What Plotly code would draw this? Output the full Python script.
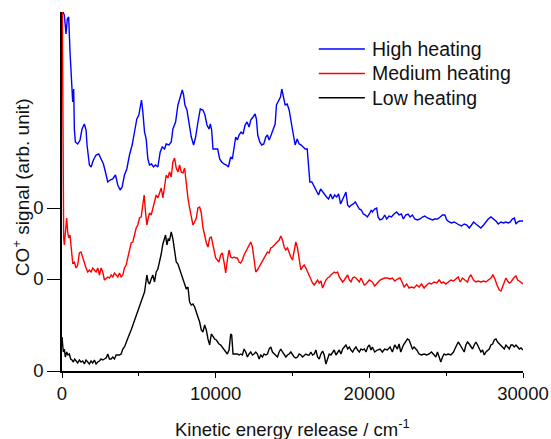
import plotly.graph_objects as go

# Kinetic energy release (cm^-1) and CO+ signal (arb. unit).
# Each series is stored relative to its own zero; offsets are applied when plotting.

blue_energy = [
    0, 87, 152, 261, 348, 435, 522, 630, 696, 761,
    804, 870, 1022, 1174, 1304, 1457, 1565, 1630, 1783, 1891,
    2044, 2217, 2391, 2544, 2696, 2826, 2978, 3131, 3304, 3478,
    3631, 3783, 3913, 4065, 4218, 4391, 4565, 4718, 4870, 5000,
    5087, 5174, 5261, 5370, 5478, 5587, 5696, 5826, 5957, 6087,
    6239, 6391, 6522, 6674, 6783, 6957, 7109, 7217, 7391, 7544,
    7696, 7826, 7913, 8000, 8131, 8261, 8413, 8565, 8696, 8848,
    9000, 9174, 9304, 9435, 9565, 9652, 9739, 9826, 10000, 10130,
    10261, 10391, 10543, 10696, 10826, 10978, 11087, 11196, 11304, 11413,
    11522, 11652, 11783, 11913, 12044, 12174, 12283, 12435, 12565, 12652,
    12739, 12870, 13000, 13130, 13261, 13370, 13478, 13609, 13739, 13870,
    13957, 14087, 14217, 14304, 14391, 14522, 14652, 14783, 14913, 15044,
    15174, 15304, 15435, 15565, 15696, 15826, 15957, 16043, 16130, 16261,
    16413, 16565, 16696, 16826, 16957, 17087, 17217, 17348, 17478, 17609,
    17739, 17870, 18000, 18130, 18261, 18391, 18478, 18587, 18696, 18826,
    18957, 19087, 19217, 19348, 19478, 19609, 19739, 19870, 20000, 20130,
    20196, 20348, 20478, 20565, 20696, 20848, 21000, 21130, 21283, 21435,
    21609, 21783, 21935, 22087, 22217, 22370, 22522, 22652, 22804, 22957,
    23130, 23304, 23457, 23609, 23783, 23957, 24109, 24261, 24435, 24609,
    24761, 24913, 25043, 25196, 25348, 25522, 25696, 25848, 26000, 26174,
    26348, 26500, 26652, 26783, 26935, 27087, 27261, 27435, 27587, 27739,
    27913, 28087, 28239, 28391, 28565, 28739, 28891, 29043, 29174, 29304,
    29435, 29543, 29652, 29783, 30000,
]
blue_signal = [
    240, 195, 193, 174, 189, 191, 156, 126, 106, 119,
    79, 66, 64, 68, 79, 84, 78, 63, 43, 41,
    48, 53, 54, 49, 44, 36, 26, 28, 29, 33,
    23, 18, 21, 33, 39, 53, 63, 76, 89, 93,
    99, 108, 96, 76, 69, 49, 43, 44, 41, 43,
    41, 56, 61, 59, 64, 63, 66, 79, 86, 103,
    111, 118, 113, 103, 98, 86, 71, 63, 71, 86,
    99, 98, 93, 83, 79, 84, 78, 59, 59, 59,
    49, 46, 44, 43, 41, 51, 49, 59, 71, 68,
    73, 76, 74, 83, 86, 81, 88, 91, 94, 89,
    73, 66, 63, 64, 71, 73, 68, 73, 79, 84,
    103, 108, 111, 119, 113, 103, 104, 98, 86, 76,
    63, 69, 64, 63, 61, 59, 59, 46, 26, 26,
    21, 16, 13, 19, 16, 14, 11, 9, 14, 9,
    13, 11, 14, 4, 8, 13, 16, 3, 1, 3,
    4, 6, 3, -1, -2, -6, -7, -9, -6, -2,
    -4, -1, 0, -9, -12, -11, -7, -11, -8, -9,
    -6, -4, -7, -6, -11, -7, -6, -9, -7, -11,
    -12, -11, -9, -8, -10, -11, -12, -11, -11, -9,
    -7, -7, -12, -14, -15, -14, -16, -17, -18, -16,
    -17, -20, -17, -14, -16, -18, -20, -17, -14, -11,
    -9, -11, -13, -16, -14, -15, -14, -15, -14, -11,
    -10, -16, -14, -13, -13,
]

red_energy = [
    0, 65, 109, 152, 217, 304, 370, 435, 522, 609,
    696, 804, 913, 1022, 1130, 1239, 1348, 1457, 1565, 1674,
    1783, 1891, 2000, 2109, 2217, 2326, 2435, 2544, 2652, 2761,
    2870, 2978, 3087, 3196, 3304, 3413, 3522, 3631, 3739, 3848,
    3957, 4065, 4174, 4283, 4391, 4500, 4609, 4718, 4826, 4935,
    5043, 5152, 5261, 5348, 5435, 5522, 5609, 5696, 5804, 5913,
    6022, 6130, 6239, 6348, 6457, 6565, 6674, 6783, 6891, 7000,
    7109, 7217, 7326, 7435, 7544, 7652, 7761, 7870, 7978, 8087,
    8196, 8304, 8413, 8522, 8630, 8739, 8848, 8957, 9065, 9174,
    9283, 9391, 9500, 9609, 9717, 9826, 9935, 10000, 10109, 10217,
    10326, 10435, 10543, 10652, 10761, 10870, 10978, 11087, 11196, 11304,
    11413, 11522, 11630, 11739, 11848, 11957, 12065, 12174, 12283, 12391,
    12500, 12609, 12717, 12826, 12935, 13043, 13152, 13261, 13370, 13478,
    13587, 13696, 13804, 13913, 14022, 14130, 14239, 14348, 14457, 14565,
    14674, 14783, 14891, 15000, 15109, 15217, 15326, 15435, 15543, 15652,
    15761, 15870, 15978, 16087, 16196, 16304, 16413, 16522, 16630, 16739,
    16848, 16957, 17065, 17174, 17283, 17391, 17500, 17609, 17717, 17826,
    17935, 18043, 18152, 18261, 18370, 18478, 18587, 18696, 18804, 18913,
    19022, 19130, 19239, 19348, 19457, 19565, 19674, 19783, 19891, 20000,
    20196, 20348, 20522, 20696, 20848, 21000, 21174, 21348, 21500, 21652,
    21826, 22000, 22130, 22261, 22435, 22587, 22739, 22913, 23087, 23239,
    23391, 23565, 23739, 23891, 24043, 24217, 24391, 24543, 24696, 24826,
    24978, 25130, 25304, 25478, 25630, 25783, 25913, 26065, 26217, 26391,
    26500, 26609, 26783, 26935, 27087, 27261, 27435, 27587, 27739, 27913,
    28043, 28174, 28304, 28457, 28565, 28674, 28783, 28891, 29000, 29109,
    29217, 29391, 29543, 29652, 29761, 29870, 30000,
]
red_signal = [
    320, 104, 41, 34, 44, 61, 47, 41, 44, 27,
    16, 17, 11, 14, 26, 27, 21, 17, 11, 7,
    9, 7, 11, 9, 7, 11, 4, 11, 7, -1,
    1, 2, 1, 4, 2, 6, 4, 2, 6, 2,
    4, 11, 14, 21, 26, 36, 37, 44, 51, 54,
    61, 62, 74, 84, 67, 54, 61, 66, 64, 71,
    77, 84, 81, 87, 91, 81, 94, 104, 101, 107,
    102, 117, 121, 111, 107, 114, 107, 106, 111, 94,
    81, 71, 61, 54, 57, 61, 71, 72, 66, 51,
    44, 36, 32, 41, 42, 34, 27, 21, 19, 17,
    24, 26, 17, 6, 19, 29, 22, 21, 22, 21,
    21, 17, 16, 19, 24, 27, 31, 34, 37, 32,
    21, 7, 9, 12, 14, 17, 21, 24, 27, 26,
    31, 32, 34, 36, 37, 39, 43, 39, 32, 29,
    31, 26, 22, 19, 27, 37, 31, 17, 9, 12,
    14, 11, 7, 4, -1, -4, -6, -3, -1, -4,
    -2, -9, -4, -1, 1, 2, 4, 6, 7, 6,
    7, 2, 0, -3, -1, 2, 4, -1, -3, 1,
    2, 1, -1, -3, 1, -2, -6, -5, -3, -1,
    -3, -7, -4, -1, 0, 1, 1, 0, 1, -2,
    0, 1, -3, -8, -5, -9, -8, -9, -6, -8,
    -5, -9, -6, -4, -5, -3, -4, -1, -4, -3,
    -5, -3, -1, -2, 0, 2, -3, 1, -1, -3,
    2, 4, -1, -3, -2, -3, -2, -3, -1, 1,
    4, 0, -6, -11, -12, -8, -3, 1, -2, -4,
    -3, 1, 3, -1, -2, -3, -5,
]

black_energy = [
    0, 87, 152, 217, 304, 391, 478, 565, 652, 739,
    826, 913, 1022, 1130, 1239, 1348, 1457, 1565, 1674, 1783,
    1891, 2000, 2109, 2217, 2326, 2435, 2544, 2652, 2761, 2870,
    2978, 3087, 3196, 3304, 3413, 3522, 3631, 3739, 3848, 3957,
    4065, 4174, 4283, 4391, 4500, 4609, 4718, 4826, 4935, 5043,
    5152, 5261, 5370, 5435, 5522, 5609, 5696, 5804, 5913, 6022,
    6130, 6239, 6348, 6457, 6565, 6674, 6739, 6826, 6913, 7000,
    7109, 7217, 7326, 7435, 7544, 7652, 7761, 7870, 7978, 8087,
    8196, 8304, 8413, 8522, 8630, 8739, 8848, 8957, 9065, 9174,
    9283, 9391, 9500, 9609, 9717, 9826, 9935, 10043, 10217, 10326,
    10435, 10543, 10652, 10761, 10870, 10978, 11043, 11130, 11261, 11413,
    11522, 11630, 11739, 11848, 11957, 12065, 12174, 12283, 12391, 12500,
    12609, 12717, 12826, 12935, 13043, 13152, 13261, 13370, 13478, 13587,
    13696, 13804, 13913, 14022, 14130, 14239, 14348, 14457, 14565, 14674,
    14783, 14891, 15000, 15109, 15217, 15326, 15435, 15543, 15652, 15761,
    15870, 15978, 16087, 16196, 16304, 16413, 16522, 16630, 16739, 16848,
    16957, 17065, 17174, 17283, 17391, 17500, 17609, 17717, 17826, 17935,
    18043, 18152, 18261, 18370, 18478, 18587, 18696, 18804, 18913, 19022,
    19130, 19239, 19348, 19457, 19565, 19674, 19783, 19891, 20000, 20109,
    20196, 20348, 20522, 20696, 20848, 21000, 21174, 21348, 21500, 21652,
    21826, 21935, 22043, 22217, 22370, 22478, 22587, 22696, 22804, 22913,
    23087, 23239, 23391, 23565, 23739, 23891, 24043, 24217, 24326, 24435,
    24543, 24652, 24761, 24870, 24978, 25130, 25304, 25478, 25565, 25696,
    25783, 25913, 26065, 26174, 26283, 26391, 26500, 26609, 26717, 26826,
    26935, 27043, 27152, 27261, 27370, 27478, 27587, 27696, 27804, 27913,
    28022, 28130, 28239, 28348, 28457, 28565, 28674, 28783, 28891, 29000,
    29109, 29217, 29326, 29435, 29543, 29652, 29761, 29870, 30000,
]
black_signal = [
    34, 19, 22, 14, 19, 16, 17, 12, 11, 9,
    12, 10, 8, 11, 9, 10, 7, 11, 9, 7,
    10, 8, 11, 7, 9, 10, 12, 11, 12, 13,
    17, 12, 12, 14, 12, 16, 16, 16, 17, 22,
    24, 29, 34, 37, 41, 46, 51, 54, 59, 64,
    71, 76, 79, 86, 96, 89, 87, 92, 96, 89,
    99, 102, 109, 117, 127, 134, 136, 126, 132, 131,
    139, 132, 119, 109, 107, 102, 96, 92, 86, 82,
    84, 69, 66, 67, 64, 59, 56, 49, 41, 39,
    46, 41, 32, 26, 37, 34, 32, 31, 27, 26,
    24, 22, 19, 17, 21, 37, 36, 17, 17, 17,
    16, 17, 16, 22, 19, 14, 17, 19, 16, 17,
    19, 17, 12, 16, 14, 17, 16, 17, 22, 24,
    19, 17, 16, 14, 19, 22, 19, 16, 14, 16,
    17, 19, 16, 14, 13, 14, 17, 16, 14, 16,
    17, 16, 16, 19, 16, 17, 21, 14, 12, 17,
    20, 16, 7, 12, 17, 16, 19, 21, 16, 19,
    21, 17, 22, 24, 26, 22, 24, 21, 19, 22,
    24, 21, 19, 22, 21, 22, 19, 24, 26, 21,
    24, 19, 21, 22, 19, 22, 21, 24, 19, 26,
    22, 27, 19, 26, 29, 32, 31, 26, 22, 24,
    21, 17, 16, 17, 16, 17, 19, 16, 14, 19,
    14, 9, 14, 17, 16, 17, 16, 19, 22, 27,
    29, 26, 22, 19, 26, 29, 27, 24, 22, 26,
    29, 26, 22, 19, 21, 16, 19, 21, 22, 26,
    27, 31, 32, 29, 27, 26, 24, 22, 26, 24,
    22, 26, 26, 24, 26, 24, 22, 23, 21,
]

assert len(blue_energy) == len(blue_signal), (len(blue_energy), len(blue_signal))
assert len(red_energy) == len(red_signal), (len(red_energy), len(red_signal))
assert len(black_energy) == len(black_signal), (len(black_energy), len(black_signal))

# vertical offsets of the stacked spectra
offsets = {"High heating": 163, "Medium heating": 92, "Low heating": 0}
series = [
    ("High heating", blue_energy, blue_signal, "#0000FF"),
    ("Medium heating", red_energy, red_signal, "#FF0000"),
    ("Low heating", black_energy, black_signal, "#000000"),
]

FONT = "Liberation Sans, Arial, sans-serif"

fig = go.Figure()
for name, xs, ys, color in series:
    fig.add_trace(go.Scatter(
        x=xs,
        y=[v + offsets[name] for v in ys],
        mode="lines",
        name=name,
        line=dict(color=color, width=1.4),
        showlegend=False,
    ))

# hand-drawn legend (long line samples like the original)
legend_y = [0.897, 0.829, 0.761]
for (name, _, _, color), ly in zip(series, legend_y):
    fig.add_shape(type="line", xref="paper", yref="paper",
                  x0=0.557, x1=0.657, y0=ly, y1=ly,
                  line=dict(color=color, width=1.5))
    fig.add_annotation(text=name, xref="paper", yref="paper",
                       x=0.668, y=ly, xanchor="left", yanchor="middle",
                       showarrow=False, font=dict(size=19.5, color="#111111"))

fig.add_annotation(text="Kinetic energy release / cm<sup>-1</sup>",
                   xref="paper", yref="paper", x=0.499, y=0,
                   xanchor="center", yanchor="middle", yshift=-57,
                   showarrow=False, font=dict(size=18.5, color="#111111"))
fig.add_annotation(text="CO<sup>+</sup> signal (arb. unit)",
                   xref="paper", yref="paper", x=0, y=0.512,
                   xanchor="center", yanchor="middle", xshift=-41,
                   textangle=-90, showarrow=False,
                   font=dict(size=19, color="#111111"))

fig.update_layout(
    width=551,
    height=439,
    margin=dict(l=62, r=28, t=12, b=68),
    paper_bgcolor="white",
    plot_bgcolor="white",
    font=dict(family=FONT, color="#111111"),
    showlegend=False,
    xaxis=dict(
        range=[0, 30000],
        tickvals=[0, 10000, 20000, 30000],
        ticktext=["0", "10000", "20000", "30000"],
        ticks="outside", ticklen=5, tickwidth=1.3, tickcolor="black",
        minor=dict(ticks="outside", ticklen=3, tickwidth=1.3,
                   tickcolor="black", dtick=5000, tick0=0),
        showline=True, linecolor="black", linewidth=1.5,
        showgrid=False, zeroline=False, automargin=False,
        tickfont=dict(size=18.5),
    ),
    yaxis=dict(
        range=[0, 359],
        tickvals=[offsets["Low heating"], offsets["Medium heating"], offsets["High heating"]],
        ticktext=["0", "0", "0"],
        ticks="outside", ticklen=13, tickwidth=1.3, tickcolor="black",
        showline=True, linecolor="black", linewidth=1.5,
        showgrid=False, zeroline=False, automargin=False,
        tickfont=dict(size=18.5),
    ),
)

# drop the browser's default 8px page margin so the figure sits at (0, 0)
fig.write_html("out.html", config={"displayModeBar": False},
               post_script="document.body.style.margin = '0';")
